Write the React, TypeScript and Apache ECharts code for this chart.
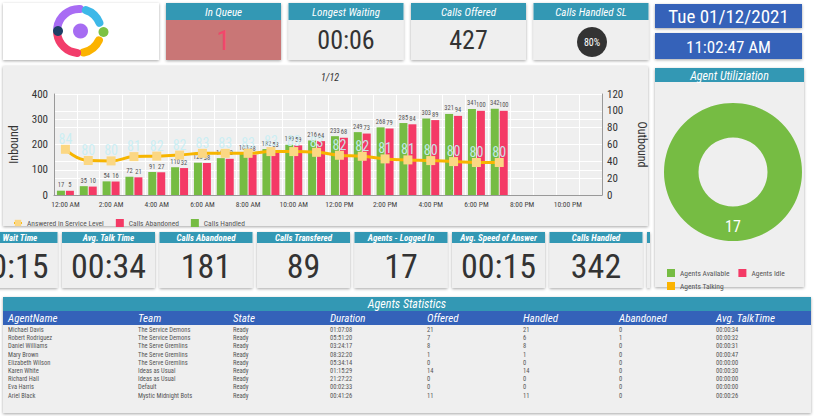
import React, { useEffect, useRef } from "react";
import * as echarts from "echarts";

// ---------- data ----------
const hours = [
  "12:00 AM", "1:00 AM", "2:00 AM", "3:00 AM", "4:00 AM", "5:00 AM", "6:00 AM", "7:00 AM",
  "8:00 AM", "9:00 AM", "10:00 AM", "11:00 AM", "12:00 PM", "1:00 PM", "2:00 PM", "3:00 PM",
  "4:00 PM", "5:00 PM", "6:00 PM", "7:00 PM", "8:00 PM", "9:00 PM", "10:00 PM", "11:00 PM",
];
const callsHandled = [17, 35, 54, 72, 91, 110, 128, 146, 165, 182, 199, 216, 233, 249, 268, 285, 303, 321, 341, 342];
const callsAbandoned = [5, 10, 16, 21, 27, 32, 38, 43, 48, 53, 59, 64, 68, 73, 79, 84, 89, 94, 100, 100];
const slLine = [54.3, 41, 40.5, 45.6, 46.2, 47.4, 49.5, 49.5, 49.5, 51.6, 51.6, 50.7, 47.2, 46, 42.9, 41.7, 40.9, 39.7, 38.6, 38.6];
const slLabels = [84, 80, 80, 81, 82, 82, 83, 83, 83, 83, 83, 83, 82, 82, 81, 81, 80, 80, 80, 80];

const topTitles = ["In Queue", "Longest Waiting", "Calls Offered", "Calls Handled SL"];
const topValues = ["1", "00:06", "427", "80%"];
const dateText = "Tue 01/12/2021";
const timeText = "11:02:47 AM";

const kpiTitles = ["Avg. Wait Time", "Avg. Talk Time", "Calls Abandoned", "Calls Transfered", "Agents - Logged In", "Avg. Speed of Answer", "Calls Handled"];
const kpiValues = ["00:15", "00:34", "181", "89", "17", "00:15", "342"];

const utilNames = ["Agents Available", "Agents Idle", "Agents Talking"];
const utilValues = [17, 0, 0];

const tableColumns = ["AgentName", "Team", "State", "Duration", "Offered", "Handled", "Abandoned", "Avg. TalkTime"];
const agentNames = ["Michael Davis", "Robert Rodriguez", "Daniel Williams", "Mary Brown", "Elizabeth Wilson", "Karen White", "Richard Hall", "Eva Harris", "Ariel Black"];
const agentTeams = ["The Service Demons", "The Service Demons", "The Serve Gremlins", "The Serve Gremlins", "The Serve Gremlins", "Ideas as Usual", "Ideas as Usual", "Default", "Mystic Midnight Bots"];
const agentStates = ["Ready", "Ready", "Ready", "Ready", "Ready", "Ready", "Ready", "Ready", "Ready"];
const agentDurations = ["01:07:08", "05:51:20", "03:24:17", "08:32:20", "05:34:14", "01:15:29", "21:27:22", "00:02:33", "00:41:26"];
const agentOffered = [21, 7, 8, 1, 0, 14, 0, 0, 11];
const agentHandled = [21, 6, 8, 1, 0, 14, 0, 0, 11];
const agentAbandoned = [0, 1, 0, 0, 0, 0, 0, 0, 0];
const agentTalk = ["00:00:34", "00:00:32", "00:00:31", "00:00:47", "00:00:00", "00:00:30", "00:00:00", "00:00:00", "00:00:26"];

// ---------- styles ----------
const FONT = "'Roboto Condensed', 'Liberation Sans Narrow', 'DejaVu Sans Condensed', Roboto, sans-serif";
const TEAL = "#3398b4";
const BLUE = "#3462b9";
const PANEL = "#efefef";
const GREEN = "#76bc43";
const RED = "#f43a66";
const ORANGE = "#f7b500";
const SHADOW = { shadowBlur: 3, shadowColor: "rgba(0,0,0,0.35)", shadowOffsetY: 1 };

const deg = (d: number) => (d * Math.PI) / 180;

function txt(x: number, y: number, text: string, size: number, fill: string, opts: any = {}) {
  return {
    type: "text",
    x,
    y,
    z: 20,
    silent: true,
    style: {
      text,
      fill,
      fontSize: size,
      fontFamily: FONT,
      fontStyle: opts.italic ? "italic" : "normal",
      fontWeight: opts.weight || "normal",
      align: opts.align || "center",
      verticalAlign: "middle",
    },
  };
}

function rect(x: number, y: number, w: number, h: number, fill: string, z = -10, shadow = false) {
  return {
    type: "rect",
    z,
    silent: true,
    shape: { x, y, width: w, height: h },
    style: Object.assign({ fill }, shadow ? SHADOW : {}),
  };
}

function buildGraphics() {
  const g: any[] = [];
  // logo card
  g.push(rect(3, 3, 156, 57, "#ffffff", -10, true));
  const arcs = [
    { s: 188, e: 272, c: "#a86cf4" },
    { s: 288, e: 338, c: "#3db8e8" },
    { s: 25, e: 78, c: "#fbb300" },
    { s: 95, e: 172, c: "#f23d6b" },
  ];
  arcs.forEach((a) =>
    g.push({
      type: "arc",
      z: 5,
      shape: { cx: 79, cy: 31, r: 22, startAngle: deg(a.s), endAngle: deg(a.e), clockwise: true },
      style: { stroke: a.c, lineWidth: 8, fill: null, lineCap: "round" },
    })
  );
  g.push({ type: "circle", z: 6, shape: { cx: 80.5, cy: 31, r: 7.5 }, style: { fill: "#a66cf2" } });
  g.push({ type: "circle", z: 6, shape: { cx: 58, cy: 31, r: 5 }, style: { fill: "#1d3f66" } });
  g.push({ type: "circle", z: 6, shape: { cx: 103.5, cy: 32, r: 5 }, style: { fill: "#7cc242" } });

  // top KPI cards
  topTitles.forEach((t, i) => {
    const x = 166 + i * 122.5;
    const w = 115;
    g.push(rect(x, 3, w, 57, i === 0 ? "#c97676" : PANEL, -10, true));
    g.push(rect(x, 3, w, 17, TEAL, -9));
    g.push(txt(x + w / 2, 12, t, 11, "#ffffff", { italic: true }));
    if (i === 3) {
      g.push({ type: "circle", z: 6, shape: { cx: x + w / 2 + 1, cy: 42, r: 15 }, style: { fill: "#333333" } });
      g.push(txt(x + w / 2 + 1, 42, topValues[i], 10, "#ffffff"));
    } else {
      g.push(txt(x + w / 2, 40, topValues[i], i === 0 ? 28 : 26, i === 0 ? "#f2476b" : "#333333"));
    }
  });

  // date boxes
  g.push(rect(655, 4, 147, 24, BLUE, -10, true));
  g.push(txt(728.5, 16.5, dateText, 19, "#ffffff"));
  g.push(rect(655, 33, 147, 26, BLUE, -10, true));
  g.push(txt(728.5, 46.5, timeText, 17, "#ffffff"));

  // chart panel
  g.push(rect(3, 66, 645, 160, PANEL, -10, true));

  // bottom KPI cards
  kpiTitles.forEach((t, i) => {
    const x = -35.5 + i * 97.5;
    const w = 93;
    g.push(rect(x, 232, w, 56, PANEL, -10, true));
    g.push(rect(x, 232, w, 11, TEAL, -9));
    g.push(txt(x + w / 2, 238, t, 9, "#ffffff", { italic: true, weight: "bold" }));
    g.push(txt(x + w / 2, 266, kpiValues[i], 34, "#333333"));
  });
  // partially hidden last card sliver
  g.push(rect(647, 232, 3, 56, PANEL, -10, true));
  g.push(rect(647, 232, 3, 11, TEAL, -9));

  // agent utilization panel
  g.push(rect(655, 68, 149, 219, PANEL, -8, true));
  g.push(rect(655, 68, 149, 14, TEAL, -7));
  g.push(txt(729.5, 75.5, "Agent Utiliziation", 12, "#ffffff", { italic: true }));

  // statistics table
  g.push(rect(3, 297, 808, 116, PANEL, -10, true));
  g.push(rect(3, 297, 808, 14, TEAL, -9));
  g.push(rect(3, 311, 808, 14, BLUE, -9));
  g.push(txt(407, 304, "Agents Statistics", 12, "#ffffff", { italic: true }));
  const colX = [8, 138, 233, 330, 427, 523, 619, 716];
  tableColumns.forEach((c, j) => g.push(txt(colX[j], 318.5, c, 11, "#ffffff", { italic: true, align: "left" })));
  agentNames.forEach((n, i) => {
    const y = 330 + i * 8.2;
    const row = [n, agentTeams[i], agentStates[i], agentDurations[i], String(agentOffered[i]), String(agentHandled[i]), String(agentAbandoned[i]), agentTalk[i]];
    row.forEach((v, j) => g.push(txt(colX[j], y, v, 6.5, "#555555", { align: "left" })));
  });
  return g;
}

export default function App() {
  const ref = useRef<HTMLDivElement>(null);
  useEffect(() => {
    if (!ref.current) return;
    document.body.style.margin = "0";
    const chart = echarts.init(ref.current, null, { renderer: "svg" });
    const labelStyle = { show: true, position: "top", distance: 2, fontSize: 6.5, color: "#555555", fontFamily: FONT };
    const option: any = {
      animation: false,
      backgroundColor: "#ffffff",
      textStyle: { fontFamily: FONT },
      title: {
        text: "1/12",
        left: 316,
        top: 67,
        textStyle: { fontSize: 10, fontStyle: "italic", fontWeight: "normal", color: "#333333", fontFamily: FONT },
      },
      legend: [
        {
          data: [
            { name: "Answered in Service Level" },
            { name: "Calls Abandoned", icon: "rect" },
            { name: "Calls Handled", icon: "rect" },
          ],
          left: 8,
          top: 214,
          itemWidth: 8,
          itemHeight: 8,
          itemGap: 12,
          textStyle: { fontSize: 7.5, color: "#555555", fontFamily: FONT },
        },
        {
          data: ["Agents Available", "Agents Idle"],
          icon: "rect",
          left: 662,
          top: 264,
          itemWidth: 8,
          itemHeight: 8,
          itemGap: 9,
          textStyle: { fontSize: 7.5, color: "#555555", fontFamily: FONT },
        },
        {
          data: ["Agents Talking"],
          icon: "rect",
          left: 662,
          top: 277,
          itemWidth: 8,
          itemHeight: 8,
          textStyle: { fontSize: 7.5, color: "#555555", fontFamily: FONT },
        },
      ],
      grid: { left: 49, right: 212, top: 94, bottom: 221, containLabel: false },
      xAxis: {
        type: "category",
        data: hours,
        boundaryGap: true,
        axisLine: { lineStyle: { color: "#999999" } },
        axisTick: { show: false },
        axisLabel: { interval: 1, fontSize: 7.5, color: "#444444", margin: 5, fontFamily: FONT },
        splitLine: { show: true, interval: 0, lineStyle: { color: "#ffffff", width: 1 } },
      },
      yAxis: [
        {
          type: "value",
          name: "Inbound",
          nameLocation: "middle",
          nameGap: 34,
          nameRotate: 90,
          nameTextStyle: { fontSize: 12, color: "#333333", fontFamily: FONT },
          min: 0,
          max: 400,
          interval: 100,
          axisLine: { show: true, lineStyle: { color: "#999999" } },
          axisTick: { show: false },
          axisLabel: { fontSize: 11, color: "#333333", margin: 6, fontFamily: FONT },
          splitLine: { show: true, lineStyle: { color: "#ffffff" } },
        },
        {
          type: "value",
          name: "Outbound",
          position: "right",
          nameLocation: "middle",
          nameGap: 34,
          nameRotate: -90,
          nameTextStyle: { fontSize: 12, color: "#333333", fontFamily: FONT },
          min: 0,
          max: 120,
          interval: 20,
          axisLine: { show: true, lineStyle: { color: "#999999" } },
          axisTick: { show: false },
          axisLabel: { fontSize: 11, color: "#333333", margin: 5, fontFamily: FONT },
          splitLine: { show: true, lineStyle: { color: "#ffffff" } },
        },
      ],
      series: [
        {
          name: "Calls Handled",
          type: "bar",
          yAxisIndex: 0,
          data: callsHandled,
          barWidth: 8,
          barGap: "12%",
          itemStyle: { color: GREEN },
          label: labelStyle,
          z: 2,
        },
        {
          name: "Calls Abandoned",
          type: "bar",
          yAxisIndex: 1,
          data: callsAbandoned,
          barWidth: 8,
          barGap: "12%",
          itemStyle: { color: RED },
          label: labelStyle,
          z: 2,
        },
        {
          name: "Answered in Service Level",
          type: "line",
          yAxisIndex: 1,
          data: slLine,
          smooth: true,
          symbol: "rect",
          symbolSize: 9,
          lineStyle: { color: ORANGE, width: 3 },
          itemStyle: { color: "#fbd783" },
          label: {
            show: true,
            position: "top",
            distance: -1,
            fontSize: 14,
            color: "rgba(200,238,244,0.95)",
            fontFamily: FONT,
            formatter: (p: any) => String(slLabels[p.dataIndex]),
          },
          z: 5,
        },
        {
          name: "Agent Utilization",
          type: "pie",
          center: [733, 172],
          radius: [34.5, 69],
          avoidLabelOverlap: false,
          silent: true,
          data: utilNames.map((n, i) => ({ name: n, value: utilValues[i] })),
          color: [GREEN, RED, "#fbb300"],
          label: {
            show: true,
            position: "inside",
            fontSize: 16,
            color: "#ffffff",
            fontFamily: FONT,
            formatter: (p: any) => (p.value > 0 ? String(p.value) : ""),
          },
          labelLine: { show: false },
        },
      ],
      graphic: { elements: buildGraphics() },
    };
    chart.setOption(option);
    return () => chart.dispose();
  }, []);
  return <div ref={ref} style={{ position: "fixed", left: 0, top: 0, width: 814, height: 416, background: "#fff" }} />;
}
